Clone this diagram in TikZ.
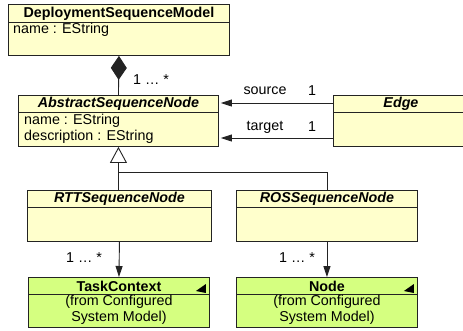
\documentclass[tikz,border=0pt]{standalone}
\usepackage{fontspec}
\setmainfont{Liberation Sans}
\usetikzlibrary{arrows.meta, positioning, calc}
\definecolor{classyellow}{RGB}{255, 255, 204}
\definecolor{refgreen}{RGB}{213, 255, 128}
\definecolor{umlline}{RGB}{35, 35, 35}
\newcommand{\umlsize}{\fontsize{14.3}{16}\selectfont}

\tikzset{
  classbox/.style={draw=umlline, line width=0.9pt, fill=classyellow, anchor=north west, inner sep=0pt},
  refbox/.style={classbox, fill=refgreen},
  classname/.style={font=\umlsize\bfseries, inner sep=0pt},
  absname/.style={font=\umlsize\bfseries\itshape, inner sep=0pt},
  attr/.style={anchor=west, inner sep=0pt},
  mult/.style={inner sep=0pt},
  assoc/.style={line width=0.9pt, draw=umlline, -{Triangle[length=11pt, width=7pt]}},
  compose/.style={line width=0.9pt, draw=umlline, {Diamond[length=24pt, width=16pt]}-},
  inherit/.style={line width=0.9pt, draw=umlline, -{Triangle[open, length=16pt, width=17pt, fill=white]}}
}

\begin{document}
\begin{tikzpicture}[x=1pt, y=-1pt, font=\umlsize]
  \useasboundingbox (0, 0) rectangle (463, 330);

  % class boxes
  \node[classbox, minimum width=221pt, minimum height=51pt] (dsm) at (8, 4) {};
  \node[classbox, minimum width=200pt, minimum height=51pt] (asn) at (18, 95) {};
  \node[classbox, minimum width=135pt, minimum height=51pt] (edge) at (333, 95) {};
  \node[classbox, minimum width=184pt, minimum height=51pt] (rtt) at (27, 190) {};
  \node[classbox, minimum width=181pt, minimum height=51pt] (ros) at (236, 190) {};
  \node[refbox, minimum width=181pt, minimum height=50pt] (tc) at (28, 277) {};
  \node[refbox, minimum width=181pt, minimum height=50pt] (nd) at (236, 277) {};

  % header lines
  \foreach \cls/\h in {dsm/18, asn/17, edge/17, rtt/17, ros/17, tc/17, nd/17}
    \draw[line width=0.9pt, umlline] ($(\cls.north west)+(0, \h)$) -- ($(\cls.north east)+(0, \h)$);

  % names and attributes
  \node[classname] (dsm-name) at ($(dsm.north)+(0, 9.5)$) {DeploymentSequenceModel};
  \node[attr] (dsm-a1) at ($(dsm.north west)+(5, 26)$) {name : EString};

  \node[absname] (asn-name) at ($(asn.north)+(0, 9)$) {AbstractSequenceNode};
  \node[attr] (asn-a1) at ($(asn.north west)+(6, 26)$) {name : EString};
  \node[attr] (asn-a2) at ($(asn.north west)+(6, 42)$) {description : EString};

  \node[absname] (edge-name) at ($(edge.north)+(0, 9)$) {Edge};
  \node[absname] (rtt-name) at ($(rtt.north)+(0, 9)$) {RTTSequenceNode};
  \node[absname] (ros-name) at ($(ros.north)+(0, 9)$) {ROSSequenceNode};

  \node[classname] (tc-name) at ($(tc.north)+(0, 9)$) {TaskContext};
  \node[align=center, inner sep=0pt] (tc-from) at ($(tc.north)+(0, 33)$) {(from Configured\\System Model)};
  \node[classname] (nd-name) at ($(nd.north)+(0, 9)$) {Node};
  \node[align=center, inner sep=0pt] (nd-from) at ($(nd.north)+(0, 33)$) {(from Configured\\System Model)};

  % reference markers
  \fill[black] ($(tc.north east)+(-14, 14)$) -- ++(10, -7) -- ++(0, 9) -- cycle;
  \fill[black] ($(nd.north east)+(-14, 14)$) -- ++(10, -7) -- ++(0, 9) -- cycle;

  % composition
  \draw[compose] (dsm.south) -- (asn.north);
  \node[mult] (dsm-mult) at (151, 80) {1 … *};

  % source / target
  \coordinate (src-y) at (0, 103);
  \coordinate (tgt-y) at (0, 138);
  \draw[assoc] (edge.west |- src-y) -- ($(asn.east |- src-y)+(2, 0)$);
  \draw[assoc] (edge.west |- tgt-y) -- ($(asn.east |- tgt-y)+(2, 0)$);
  \node[mult] (src-role) at (265, 91) {source};
  \node[mult] (src-mult) at (312, 91) {1};
  \node[mult] (tgt-role) at (265, 127) {target};
  \node[mult] (tgt-mult) at (312, 127) {1};

  % generalization
  \coordinate (gen-y) at (0, 172);
  \coordinate (gen-join) at (asn.south |- gen-y);
  \draw[inherit] (rtt.north -| asn.south) -- (asn.south);
  \draw[line width=0.9pt, umlline] (ros.north) |- (gen-join);

  % references down
  \draw[assoc] (rtt.south) -- (tc.north);
  \draw[assoc] (ros.south) -- (nd.north);
  \node[mult] (rtt-mult) at (84, 258) {1 … *};
  \node[mult] (ros-mult) at (297, 258) {1 … *};
\end{tikzpicture}
\end{document}
